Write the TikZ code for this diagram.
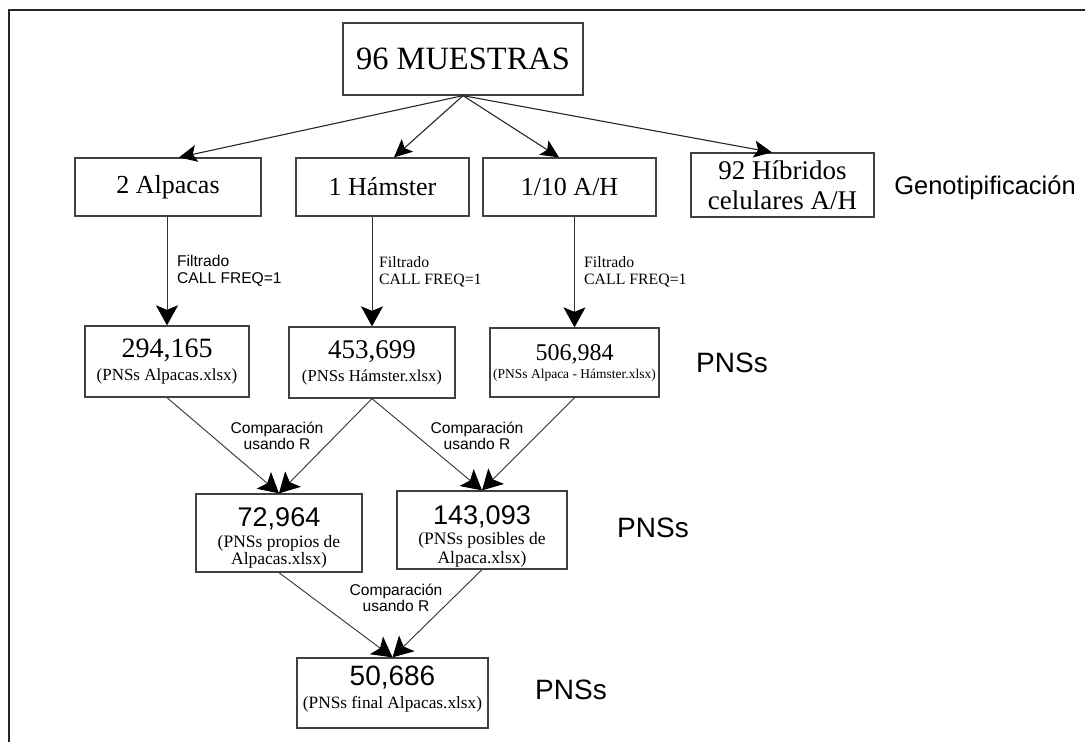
\documentclass[tikz,border=0pt]{standalone}
\usepackage{fontspec}
\setmainfont{Liberation Serif}
\setsansfont{Liberation Sans}
\usetikzlibrary{arrows.meta}
\newcommand\fs[2]{\fontsize{#1}{#2}\selectfont}
\begin{document}
\begin{tikzpicture}[x=1pt,y=-1pt,
  box/.style={draw=black!75, line width=1.3pt, inner sep=0pt, align=center, fill=white},
  arr/.style={draw=black!80, line width=0.9pt, -{Stealth[length=20pt,width=22pt,inset=4.5pt,color=black]}},
  arrtop/.style={draw=black!85, line width=1.1pt, -{Stealth[length=18pt,width=17pt,inset=4pt,color=black]}},
  lab/.style={inner sep=0pt, align=center},
  pns/.style={inner sep=0pt, font=\sffamily\fs{28}{30}}]
\useasboundingbox (0,0) rectangle (1085,742);
\draw[line width=2pt, black!85] (9,742) -- (9,10) -- (1085,10);

% top
\node[box, minimum width=240pt, minimum height=72pt] (m) at (463,59) {\fs{32.5}{34}96 MUESTRAS};

\node[box, minimum width=186pt, minimum height=58pt] (a) at (168,187) {\fs{26}{28}2 Alpacas};
\node[box, minimum width=173pt, minimum height=58pt] (h) at (382.5,187) {\fs{26}{28}1 Hámster};
\node[box, minimum width=173pt, minimum height=58pt] (ah) at (569.5,187) {\fs{26}{28}1/10 A/H};
\node[box, minimum width=183pt, minimum height=64pt, font=\fs{27}{30}] (hy) at (782.5,185) {92 Híbridos\\celulares A/H};
\node[lab, font=\sffamily\fs{25.5}{27}] (gen) at (985,188) {Genotipificación};

% second row
\node[box, minimum width=164pt, minimum height=71pt, font=\fs{17}{23}] (p1) at (167,361.5) {{\fs{28}{23}294,165}\\(PNSs Alpacas.xlsx)};
\node[box, minimum width=166pt, minimum height=71pt, font=\fs{16.7}{23}] (p2) at (372,362.5) {{\fs{27}{23}453,699}\\(PNSs Hámster.xlsx)};
\node[box, minimum width=169pt, minimum height=69pt, font=\fs{13.5}{18}] (p3) at (574.5,362.5) {{\fs{24}{18}506,984}\\(PNSs Alpaca - Hámster.xlsx)};
\node[pns] (r1) at (732,363) {PNSs};

% third row
\node[box, minimum width=166pt, minimum height=78pt, font=\fs{17.5}{17.5}] (q1) at (279,533) {\rule{0pt}{29pt}{\sffamily\fs{27}{21}72,964}\\[3pt](PNSs propios de\\Alpacas.xlsx)};
\node[box, minimum width=170pt, minimum height=78pt, font=\fs{17.5}{19}] (q2) at (482,530) {\rule{0pt}{31pt}{\sffamily\fs{27}{21}143,093}\\[1pt](PNSs posibles de\\Alpaca.xlsx)};
\node[pns] (r2) at (653,528) {PNSs};

% fourth row
\node[box, minimum width=191pt, minimum height=70pt, font=\fs{17.3}{23}] (f) at (392.5,693) {{\sffamily\fs{28}{23}50,686}\\(PNSs final Alpacas.xlsx)\rule[-12pt]{0pt}{12pt}};
\node[pns] (r3) at (571,690) {PNSs};

% labels
\node[lab, anchor=west, align=left, font=\sffamily\fs{15.6}{16.5}] (l1) at (177,271) {Filtrado\\CALL FREQ=1};
\node[lab, anchor=west, align=left, font=\fs{15.8}{17}] (l2) at (379,272) {Filtrado\\CALL FREQ=1};
\node[lab, anchor=west, align=left, font=\fs{15.8}{17}] (l3) at (584,272) {Filtrado\\CALL FREQ=1};
\node[lab, font=\sffamily\fs{15.6}{16}] (c1) at (277,436) {Comparación\\usando R};
\node[lab, font=\sffamily\fs{15.6}{16}] (c2) at (477,436) {Comparación\\usando R};
\node[lab, font=\sffamily\fs{15.6}{16}] (c3) at (396,598) {Comparación\\usando R};

% connectors
\draw[arrtop] (m.south) -- ([xshift=11pt]a.north);
\draw[arrtop] (m.south) -- ([xshift=11.5pt]h.north);
\draw[arrtop] (m.south) -- ([xshift=-10.5pt]ah.north);
\draw[arrtop] (m.south) -- ([xshift=-10.5pt]hy.north);

\draw[arr] (p1.north |- a.south) -- (p1.north);
\draw[arr] (p2.north |- h.south) -- (p2.north);
\draw[arr] (p3.north |- ah.south) -- (p3.north);

\draw[arr] (p1.south) -- (q1.north);
\draw[arr] (p2.south) -- (q1.north);
\draw[arr] (p2.south) -- (q2.north);
\draw[arr] (p3.south) -- (q2.north);
\draw[arr] (q1.south) -- (f.north);
\draw[arr] (q2.south) -- (f.north);
\end{tikzpicture}
\end{document}
